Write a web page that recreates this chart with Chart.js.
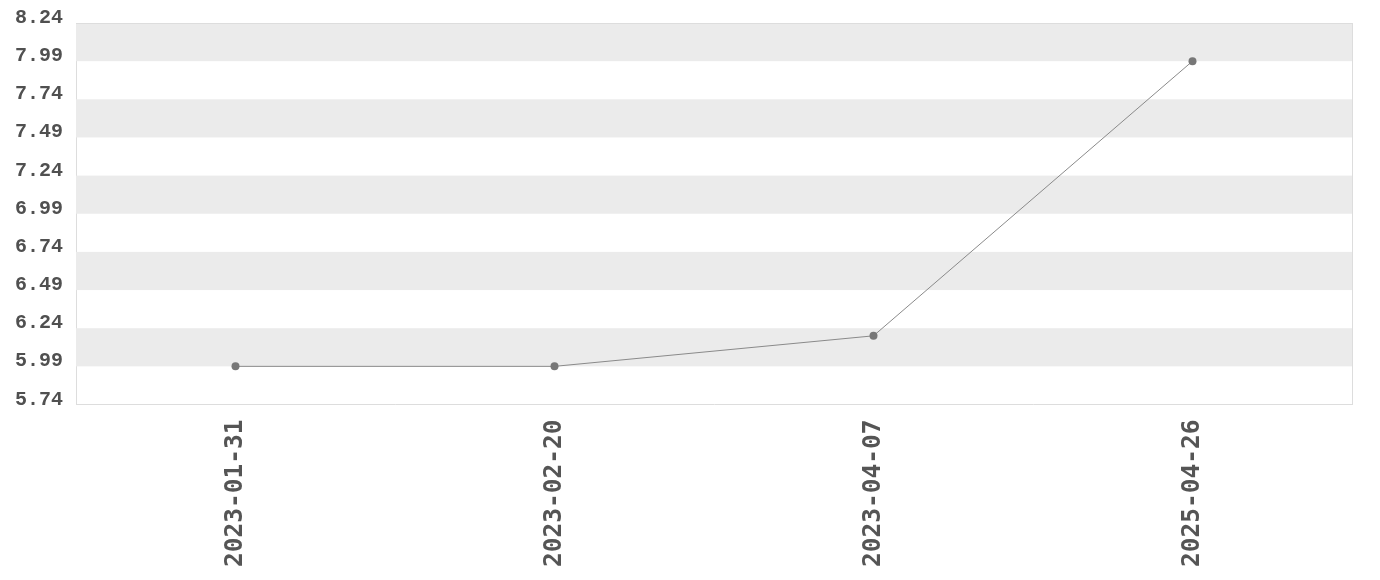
<!DOCTYPE html>
<html>
<head>
<meta charset="utf-8">
<script src="https://cdn.jsdelivr.net/npm/chart.js@4.4.1/dist/chart.umd.min.js"></script>
<style>
html,body{margin:0;padding:0;background:#fff;}
#wrap{width:1380px;height:580px;position:relative;}
</style>
</head>
<body>
<div id="wrap"><canvas id="c"></canvas></div>
<script>
const categories = ["2023-01-31", "2023-02-20", "2023-04-07", "2025-04-26"];
const values = [5.99, 5.99, 6.19, 7.99];
const yTicks = [5.74, 5.99, 6.24, 6.49, 6.74, 6.99, 7.24, 7.49, 7.74, 7.99, 8.24];

const bandPlugin = {
  id: 'bands',
  beforeDatasetsDraw(chart) {
    const {ctx, chartArea, scales} = chart;
    const y = scales.y;
    ctx.save();
    ctx.fillStyle = '#ebebeb';
    for (let i = 0; i < yTicks.length - 1; i++) {
      if ((yTicks.length - 2 - i) % 2 === 0) {
        const top = y.getPixelForValue(yTicks[i + 1]);
        const bot = y.getPixelForValue(yTicks[i]);
        ctx.fillRect(chartArea.left, top, chartArea.right - chartArea.left, bot - top);
      }
    }
    ctx.restore();
  }
};

new Chart(document.getElementById('c'), {
  type: 'line',
  data: {
    labels: categories,
    datasets: [{
      data: values,
      borderColor: '#8a8a8a',
      borderWidth: 1,
      backgroundColor: '#777777',
      pointBackgroundColor: '#777777',
      pointBorderColor: '#777777',
      pointRadius: 4,
      pointBorderWidth: 0,
      tension: 0,
      fill: false
    }]
  },
  options: {
    responsive: true,
    maintainAspectRatio: false,
    animation: false,
    layout: {padding: {top: 0, right: 28, bottom: -2, left: 2}},
    plugins: {legend: {display: false}, tooltip: {enabled: false}},
    scales: {
      x: {
        offset: true,
        grid: {display: false, drawTicks: false},
        border: {display: true, color: '#dddddd'},
        ticks: {
          autoSkip: false,
          maxRotation: 90, minRotation: 90,
          color: '#555555',
          padding: 15,
          font: {family: "'DejaVu Sans Mono', monospace", weight: 'bold', size: 24.5}
        }
      },
      y: {
        min: yTicks[0],
        max: yTicks[yTicks.length - 1],
        afterBuildTicks(scale) { scale.ticks = yTicks.map(v => ({value: v})); },
        grid: {display: false, drawTicks: false},
        border: {display: true, color: '#dddddd'},
        ticks: {
          color: '#505050',
          padding: 13,
          labelOffset: -5,
          callback: v => v.toFixed(2),
          font: {family: "'Liberation Mono', monospace", weight: 'bold', size: 20, lineHeight: 1.0}
        }
      }
    }
  },
  plugins: [bandPlugin, {
    id: 'frame',
    afterDraw(chart) {
      const {ctx, chartArea} = chart;
      ctx.save();
      ctx.strokeStyle = '#dddddd';
      ctx.lineWidth = 1;
      ctx.beginPath();
      ctx.moveTo(chartArea.right + 0.5, chartArea.top);
      ctx.lineTo(chartArea.right + 0.5, chartArea.bottom);
      ctx.moveTo(chartArea.left, chartArea.top + 0.5);
      ctx.lineTo(chartArea.right, chartArea.top + 0.5);
      ctx.stroke();
      ctx.restore();
    }
  }]
});
</script>
</body>
</html>
